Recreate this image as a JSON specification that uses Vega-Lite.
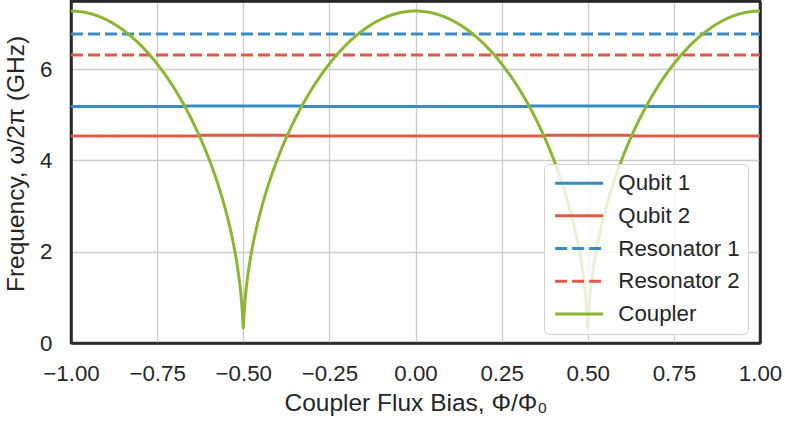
{
  "$schema": "https://vega.github.io/schema/vega-lite/v6.json",
  "width": 689,
  "height": 342,
  "autosize": "none",
  "padding": {"left": 71, "top": 1, "right": 25, "bottom": 80},
  "background": "white",
  "view": {"stroke": "#262626", "strokeWidth": 2.5, "fill": "white"},
  "config": {
    "font": "Liberation Sans",
    "axis": {
      "domain": false,
      "ticks": false,
      "tickSize": 0,
      "labelFlush": false,
      "gridColor": "#cccccc",
      "gridWidth": 1.3,
      "labelFont": "Liberation Sans",
      "labelFontSize": 22.3,
      "labelColor": "#262626",
      "titleFont": "Liberation Sans",
      "titleFontSize": 24.5,
      "titleFontWeight": "normal",
      "titleColor": "#262626"
    },
    "legend": {
      "labelFont": "Liberation Sans",
      "labelFontSize": 22.3,
      "labelColor": "#262626"
    }
  },
  "data": {
    "values": [
      {"x": -1, "y": 5.18, "series": "Qubit 1"},
      {"x": -0.676, "y": 5.18, "series": "Qubit 1"},
      {"x": -0.666, "y": 5.19, "series": "Qubit 1"},
      {"x": -0.334, "y": 5.19, "series": "Qubit 1"},
      {"x": -0.324, "y": 5.18, "series": "Qubit 1"},
      {"x": 0.324, "y": 5.18, "series": "Qubit 1"},
      {"x": 0.334, "y": 5.19, "series": "Qubit 1"},
      {"x": 0.666, "y": 5.19, "series": "Qubit 1"},
      {"x": 0.676, "y": 5.18, "series": "Qubit 1"},
      {"x": 1, "y": 5.18, "series": "Qubit 1"},
      {"x": -1, "y": 4.535, "series": "Qubit 2"},
      {"x": -0.628, "y": 4.535, "series": "Qubit 2"},
      {"x": -0.618, "y": 4.55, "series": "Qubit 2"},
      {"x": -0.382, "y": 4.55, "series": "Qubit 2"},
      {"x": -0.372, "y": 4.535, "series": "Qubit 2"},
      {"x": 0.372, "y": 4.535, "series": "Qubit 2"},
      {"x": 0.382, "y": 4.55, "series": "Qubit 2"},
      {"x": 0.618, "y": 4.55, "series": "Qubit 2"},
      {"x": 0.628, "y": 4.535, "series": "Qubit 2"},
      {"x": 1, "y": 4.535, "series": "Qubit 2"},
      {"x": -1, "y": 6.77, "series": "Resonator 1"},
      {"x": 1, "y": 6.77, "series": "Resonator 1"},
      {"x": -1, "y": 6.31, "series": "Resonator 2"},
      {"x": 1, "y": 6.31, "series": "Resonator 2"},
      {"x": -1, "y": 7.27, "series": "Coupler"},
      {"x": -0.975, "y": 7.259, "series": "Coupler"},
      {"x": -0.95, "y": 7.225, "series": "Coupler"},
      {"x": -0.925, "y": 7.169, "series": "Coupler"},
      {"x": -0.9, "y": 7.09, "series": "Coupler"},
      {"x": -0.875, "y": 6.988, "series": "Coupler"},
      {"x": -0.85, "y": 6.862, "series": "Coupler"},
      {"x": -0.825, "y": 6.713, "series": "Coupler"},
      {"x": -0.8, "y": 6.539, "series": "Coupler"},
      {"x": -0.775, "y": 6.34, "series": "Coupler"},
      {"x": -0.75, "y": 6.113, "series": "Coupler"},
      {"x": -0.725, "y": 5.859, "series": "Coupler"},
      {"x": -0.7, "y": 5.574, "series": "Coupler"},
      {"x": -0.675, "y": 5.255, "series": "Coupler"},
      {"x": -0.65, "y": 4.898, "series": "Coupler"},
      {"x": -0.625, "y": 4.497, "series": "Coupler"},
      {"x": -0.6, "y": 4.041, "series": "Coupler"},
      {"x": -0.58, "y": 3.625, "series": "Coupler"},
      {"x": -0.56, "y": 3.147, "series": "Coupler"},
      {"x": -0.54, "y": 2.574, "series": "Coupler"},
      {"x": -0.53, "y": 2.23, "series": "Coupler"},
      {"x": -0.52, "y": 1.822, "series": "Coupler"},
      {"x": -0.515, "y": 1.578, "series": "Coupler"},
      {"x": -0.51, "y": 1.288, "series": "Coupler"},
      {"x": -0.507, "y": 1.078, "series": "Coupler"},
      {"x": -0.504, "y": 0.82, "series": "Coupler"},
      {"x": -0.502, "y": 0.591, "series": "Coupler"},
      {"x": -0.501, "y": 0.446, "series": "Coupler"},
      {"x": -0.5, "y": 0.33, "series": "Coupler"},
      {"x": -0.499, "y": 0.446, "series": "Coupler"},
      {"x": -0.498, "y": 0.591, "series": "Coupler"},
      {"x": -0.496, "y": 0.82, "series": "Coupler"},
      {"x": -0.493, "y": 1.078, "series": "Coupler"},
      {"x": -0.49, "y": 1.288, "series": "Coupler"},
      {"x": -0.485, "y": 1.578, "series": "Coupler"},
      {"x": -0.48, "y": 1.822, "series": "Coupler"},
      {"x": -0.47, "y": 2.23, "series": "Coupler"},
      {"x": -0.46, "y": 2.574, "series": "Coupler"},
      {"x": -0.44, "y": 3.147, "series": "Coupler"},
      {"x": -0.42, "y": 3.625, "series": "Coupler"},
      {"x": -0.4, "y": 4.041, "series": "Coupler"},
      {"x": -0.375, "y": 4.497, "series": "Coupler"},
      {"x": -0.35, "y": 4.898, "series": "Coupler"},
      {"x": -0.325, "y": 5.255, "series": "Coupler"},
      {"x": -0.3, "y": 5.574, "series": "Coupler"},
      {"x": -0.275, "y": 5.859, "series": "Coupler"},
      {"x": -0.25, "y": 6.113, "series": "Coupler"},
      {"x": -0.225, "y": 6.34, "series": "Coupler"},
      {"x": -0.2, "y": 6.539, "series": "Coupler"},
      {"x": -0.175, "y": 6.713, "series": "Coupler"},
      {"x": -0.15, "y": 6.862, "series": "Coupler"},
      {"x": -0.125, "y": 6.988, "series": "Coupler"},
      {"x": -0.1, "y": 7.09, "series": "Coupler"},
      {"x": -0.075, "y": 7.169, "series": "Coupler"},
      {"x": -0.05, "y": 7.225, "series": "Coupler"},
      {"x": -0.025, "y": 7.259, "series": "Coupler"},
      {"x": 0, "y": 7.27, "series": "Coupler"},
      {"x": 0.025, "y": 7.259, "series": "Coupler"},
      {"x": 0.05, "y": 7.225, "series": "Coupler"},
      {"x": 0.075, "y": 7.169, "series": "Coupler"},
      {"x": 0.1, "y": 7.09, "series": "Coupler"},
      {"x": 0.125, "y": 6.988, "series": "Coupler"},
      {"x": 0.15, "y": 6.862, "series": "Coupler"},
      {"x": 0.175, "y": 6.713, "series": "Coupler"},
      {"x": 0.2, "y": 6.539, "series": "Coupler"},
      {"x": 0.225, "y": 6.34, "series": "Coupler"},
      {"x": 0.25, "y": 6.113, "series": "Coupler"},
      {"x": 0.275, "y": 5.859, "series": "Coupler"},
      {"x": 0.3, "y": 5.574, "series": "Coupler"},
      {"x": 0.325, "y": 5.255, "series": "Coupler"},
      {"x": 0.35, "y": 4.898, "series": "Coupler"},
      {"x": 0.375, "y": 4.497, "series": "Coupler"},
      {"x": 0.4, "y": 4.041, "series": "Coupler"},
      {"x": 0.42, "y": 3.625, "series": "Coupler"},
      {"x": 0.44, "y": 3.147, "series": "Coupler"},
      {"x": 0.46, "y": 2.574, "series": "Coupler"},
      {"x": 0.47, "y": 2.23, "series": "Coupler"},
      {"x": 0.48, "y": 1.822, "series": "Coupler"},
      {"x": 0.485, "y": 1.578, "series": "Coupler"},
      {"x": 0.49, "y": 1.288, "series": "Coupler"},
      {"x": 0.493, "y": 1.078, "series": "Coupler"},
      {"x": 0.496, "y": 0.82, "series": "Coupler"},
      {"x": 0.498, "y": 0.591, "series": "Coupler"},
      {"x": 0.499, "y": 0.446, "series": "Coupler"},
      {"x": 0.5, "y": 0.33, "series": "Coupler"},
      {"x": 0.501, "y": 0.446, "series": "Coupler"},
      {"x": 0.502, "y": 0.591, "series": "Coupler"},
      {"x": 0.504, "y": 0.82, "series": "Coupler"},
      {"x": 0.507, "y": 1.078, "series": "Coupler"},
      {"x": 0.51, "y": 1.288, "series": "Coupler"},
      {"x": 0.515, "y": 1.578, "series": "Coupler"},
      {"x": 0.52, "y": 1.822, "series": "Coupler"},
      {"x": 0.53, "y": 2.23, "series": "Coupler"},
      {"x": 0.54, "y": 2.574, "series": "Coupler"},
      {"x": 0.56, "y": 3.147, "series": "Coupler"},
      {"x": 0.58, "y": 3.625, "series": "Coupler"},
      {"x": 0.6, "y": 4.041, "series": "Coupler"},
      {"x": 0.625, "y": 4.497, "series": "Coupler"},
      {"x": 0.65, "y": 4.898, "series": "Coupler"},
      {"x": 0.675, "y": 5.255, "series": "Coupler"},
      {"x": 0.7, "y": 5.574, "series": "Coupler"},
      {"x": 0.725, "y": 5.859, "series": "Coupler"},
      {"x": 0.75, "y": 6.113, "series": "Coupler"},
      {"x": 0.775, "y": 6.34, "series": "Coupler"},
      {"x": 0.8, "y": 6.539, "series": "Coupler"},
      {"x": 0.825, "y": 6.713, "series": "Coupler"},
      {"x": 0.85, "y": 6.862, "series": "Coupler"},
      {"x": 0.875, "y": 6.988, "series": "Coupler"},
      {"x": 0.9, "y": 7.09, "series": "Coupler"},
      {"x": 0.925, "y": 7.169, "series": "Coupler"},
      {"x": 0.95, "y": 7.225, "series": "Coupler"},
      {"x": 0.975, "y": 7.259, "series": "Coupler"},
      {"x": 1, "y": 7.27, "series": "Coupler"}
    ]
  },
  "resolve": {"axis": {"x": "independent", "y": "independent"}},
  "layer": [
    {
      "mark": {"type": "line", "strokeWidth": 3, "clip": true, "interpolate": "monotone"},
      "encoding": {
        "x": {
          "field": "x",
          "type": "quantitative",
          "scale": {"domain": [-1, 1], "nice": false, "zero": false},
          "axis": {
            "values": [-1, -0.75, -0.5, -0.25, 0, 0.25, 0.5, 0.75, 1],
            "format": ".2f",
            "labelPadding": 19,
            "domain": true,
            "domainColor": "#262626",
            "domainWidth": 2.5,
            "title": "Coupler Flux Bias, Φ/Φ₀",
            "titlePadding": 7
          }
        },
        "y": {
          "field": "y",
          "type": "quantitative",
          "scale": {"domain": [0, 7.49], "nice": false},
          "axis": {
            "values": [0, 2, 4, 6],
            "labelPadding": 19,
            "domain": true,
            "domainColor": "#262626",
            "domainWidth": 2.5,
            "title": "Frequency, ω/2π (GHz)",
            "titlePadding": 11,
            "titleY": 162.5
          }
        },
        "color": {
          "field": "series",
          "type": "nominal",
          "scale": {
            "domain": ["Qubit 1", "Qubit 2", "Resonator 1", "Resonator 2", "Coupler"],
            "range": ["#3a8bc2", "#dd5a47", "#3a8bc2", "#dd5a47", "#8db532"]
          },
          "legend": {
            "title": null,
            "orient": "none",
            "legendX": 473,
            "legendY": 163,
            "symbolType": "M-3,0H3",
            "symbolSize": 256,
            "symbolStrokeWidth": 3,
            "symbolOffset": 16,
            "labelOffset": 28,
            "rowPadding": 9.7,
            "padding": 8,
            "fillColor": "rgba(255,255,255,0.8)",
            "strokeColor": "#d0d0d0",
            "cornerRadius": 5
          }
        },
        "strokeDash": {
          "field": "series",
          "type": "nominal",
          "scale": {
            "domain": ["Qubit 1", "Qubit 2", "Resonator 1", "Resonator 2", "Coupler"],
            "range": [[1, 0], [1, 0], [12, 5], [12, 5], [1, 0]]
          },
          "legend": null
        }
      }
    },
    {
      "mark": {"type": "line", "opacity": 0},
      "encoding": {
        "x": {
          "field": "x",
          "type": "quantitative",
          "axis": {
            "orient": "top",
            "labels": false,
            "grid": false,
            "domain": true,
            "domainColor": "#262626",
            "domainWidth": 2.5,
            "title": null
          }
        },
        "y": {
          "field": "y",
          "type": "quantitative",
          "axis": {
            "orient": "right",
            "labels": false,
            "grid": false,
            "domain": true,
            "domainColor": "#262626",
            "domainWidth": 2.5,
            "title": null
          }
        },
        "detail": {"field": "series", "type": "nominal"}
      }
    }
  ]
}
